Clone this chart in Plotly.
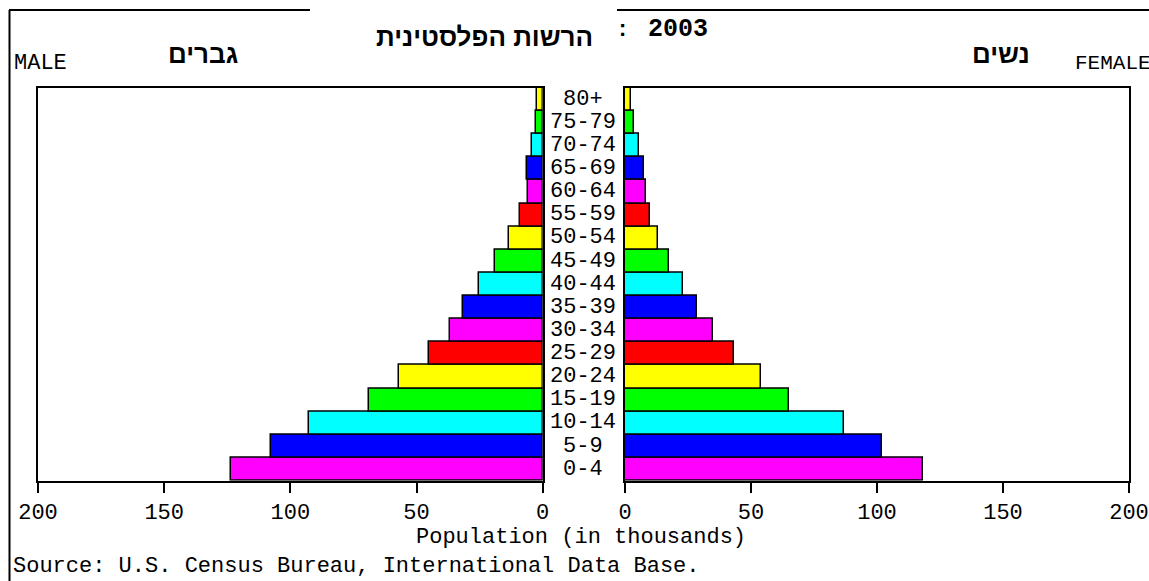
import plotly.graph_objects as go

W, H = 1149, 581

age_groups = ["0-4", "5-9", "10-14", "15-19", "20-24", "25-29", "30-34", "35-39",
              "40-44", "45-49", "50-54", "55-59", "60-64", "65-69", "70-74",
              "75-79", "80+"]
# population in thousands, 2003
male = [123.5, 107.5, 92.7, 68.7, 57.0, 45.2, 36.9, 31.7,
        25.1, 18.8, 13.4, 9.0, 5.9, 6.3, 4.3, 2.5, 2.3]
female = [118.1, 101.9, 87.0, 65.1, 54.0, 43.1, 34.9, 28.5,
          23.0, 17.5, 12.9, 10.1, 8.3, 7.5, 5.7, 3.7, 2.4]
ticks = [0, 50, 100, 150, 200]

palette = ["#ff00ff", "#0000ff", "#00ffff", "#00ff00", "#ffff00", "#ff0000"]
bar_colors = [palette[i % 6] for i in range(len(age_groups))]

mono = "Liberation Mono, DejaVu Sans Mono, monospace"
sans = "Liberation Sans, Arial, DejaVu Sans, sans-serif"


def px(x):
    return x / W


def py(y):
    return 1 - y / H


fig = go.Figure()
fig.add_trace(go.Bar(x=male, y=age_groups, orientation="h", xaxis="x", yaxis="y",
                     marker=dict(color=bar_colors, line=dict(color="black", width=1.5)),
                     showlegend=False, hoverinfo="x+y"))
fig.add_trace(go.Bar(x=female, y=age_groups, orientation="h", xaxis="x2", yaxis="y2",
                     marker=dict(color=bar_colors, line=dict(color="black", width=1.5)),
                     showlegend=False, hoverinfo="x+y"))

xcommon = dict(showline=True, mirror=True, linecolor="black", linewidth=2,
               ticks="outside", ticklen=10, tickwidth=2, tickcolor="black",
               tickvals=ticks, showgrid=False, zeroline=False, automargin=False,
               tickfont=dict(family=mono, size=22, color="black"))
ycommon = dict(showline=True, mirror=True, linecolor="black", linewidth=2,
               showticklabels=False, ticks="", showgrid=False, zeroline=False,
               automargin=False,
               categoryorder="array", categoryarray=age_groups,
               range=[-0.5, len(age_groups) - 0.5],
               domain=[py(480.7), py(87.7)])

fig.update_layout(
    template="none",
    autosize=False,
    width=W, height=H,
    margin=dict(l=0, r=0, t=0, b=0, pad=0),
    paper_bgcolor="white", plot_bgcolor="white",
    bargap=0,
    xaxis=dict(xcommon, domain=[px(38), px(542.7)], range=[200, 0], anchor="y"),
    xaxis2=dict(xcommon, domain=[px(625), px(1129)], range=[0, 200], anchor="y2"),
    yaxis=dict(ycommon, anchor="x"),
    yaxis2=dict(ycommon, anchor="x2"),
)

# age labels between the two panels
for g in age_groups:
    fig.add_annotation(x=px(583), y=g, xref="paper", yref="y", text=g, showarrow=False,
                       font=dict(family=mono, size=22, color="black"),
                       xanchor="center", yanchor="middle")

texts = [
    ("MALE", 12, 63, "left", mono, 22),
    ("FEMALE", 1073, 63, "left", mono, 21),
    ("<b>גברים</b>", 203, 54, "center", sans, 26),
    ("<b>נשים</b>", 1001, 54, "center", sans, 26),
    ("<b>הרשות הפלסטינית</b>", 484, 37, "center", sans, 26),
    ("<b>:</b>", 622, 31, "center", mono, 22),
    ("<b>2003</b>", 678, 30, "center", mono, 25),
    ("Population (in thousands)", 581, 537, "center", mono, 22),
    ("Source: U.S. Census Bureau, International Data Base.", 11, 566, "left", mono, 22),
]
for t, x, y, anchor, fam, size in texts:
    fig.add_annotation(x=px(x), y=py(y), xref="paper", yref="paper", text=t,
                       showarrow=False, xanchor=anchor, yanchor="middle",
                       font=dict(family=fam, size=size, color="black"))

# outer frame pieces
frame = [(9.5, 10, 9.5, 581), (9, 10, 310, 10), (617, 10, 1149, 10)]
for x0, y0, x1, y1 in frame:
    fig.add_shape(type="line", xref="paper", yref="paper",
                  x0=px(x0), y0=py(y0), x1=px(x1), y1=py(y1),
                  line=dict(color="black", width=2))

# drop the default page margin so the figure fills the window exactly
page_fix = ("document.body.style.margin='0';"
            "document.body.style.overflow='hidden';"
            "document.documentElement.style.overflow='hidden';")
fig.write_html("out.html", post_script=page_fix, config={"displayModeBar": False})
